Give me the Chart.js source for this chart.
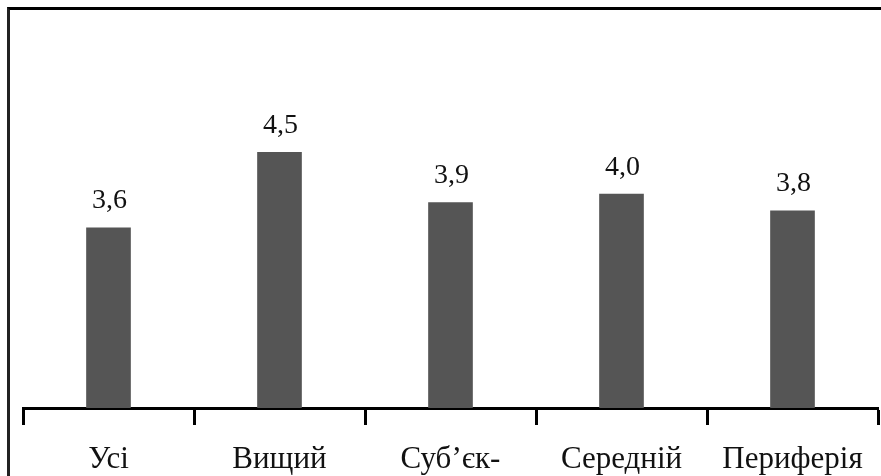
<!DOCTYPE html>
<html>
<head>
<meta charset="utf-8">
<script src="https://cdn.jsdelivr.net/npm/chart.js@4"></script>
<style>
  html, body { margin: 0; padding: 0; background: #fff; overflow: hidden; }
  #frame { position: absolute; left: 7px; top: 7px; width: 2000px; height: 2000px;
           border-top: 3px solid #000; border-left: 3px solid #222; }
  #wrap { position: absolute; left: 0; top: 0; width: 881px; height: 476px; }
</style>
</head>
<body>
<div id="frame"></div>
<div id="wrap"><canvas id="chart"></canvas></div>
<script>
const categories = ['Усі', 'Вищий', 'Суб\u2019єк-', 'Середній', 'Периферія'];
const values = [3.6, 4.5, 3.9, 4.0, 3.8];

const valueLabels = {
    id: 'valueLabels',
    afterDatasetsDraw(chart) {
        const ctx = chart.ctx;
        const meta = chart.getDatasetMeta(0);
        ctx.save();
        ctx.font = '28px "Liberation Serif"';
        ctx.fillStyle = '#111';
        ctx.textAlign = 'center';
        ctx.textBaseline = 'bottom';
        meta.data.forEach(function (bar, i) {
            const text = values[i].toFixed(1).replace('.', ',');
            ctx.fillText(text, bar.x + 1, bar.y - 13);
        });
        ctx.restore();
    }
};

new Chart(document.getElementById('chart'), {
    type: 'bar',
    data: {
        labels: categories,
        datasets: [{
            data: values,
            backgroundColor: '#555555',
            barThickness: 44
        }]
    },
    options: {
        responsive: true,
        maintainAspectRatio: false,
        animation: false,
        layout: { padding: { left: 23, right: 3, top: 60, bottom: 0 } },
        scales: {
            y: { display: false, min: 1.45, max: 5.6 },
            x: {
                offset: true,
                afterFit: function (scale) { scale.height = 68; },
                border: { display: true, color: '#000', width: 3 },
                grid: {
                    offset: true,
                    drawOnChartArea: false,
                    drawTicks: true,
                    tickLength: 17,
                    tickWidth: 3,
                    tickColor: '#000'
                },
                ticks: {
                    color: '#111',
                    padding: 16,
                    font: { family: '"Liberation Serif"', size: 31 },
                    maxRotation: 0,
                    autoSkip: false
                }
            }
        },
        plugins: {
            legend: { display: false },
            tooltip: { enabled: false }
        }
    },
    plugins: [valueLabels]
});
</script>
</body>
</html>
